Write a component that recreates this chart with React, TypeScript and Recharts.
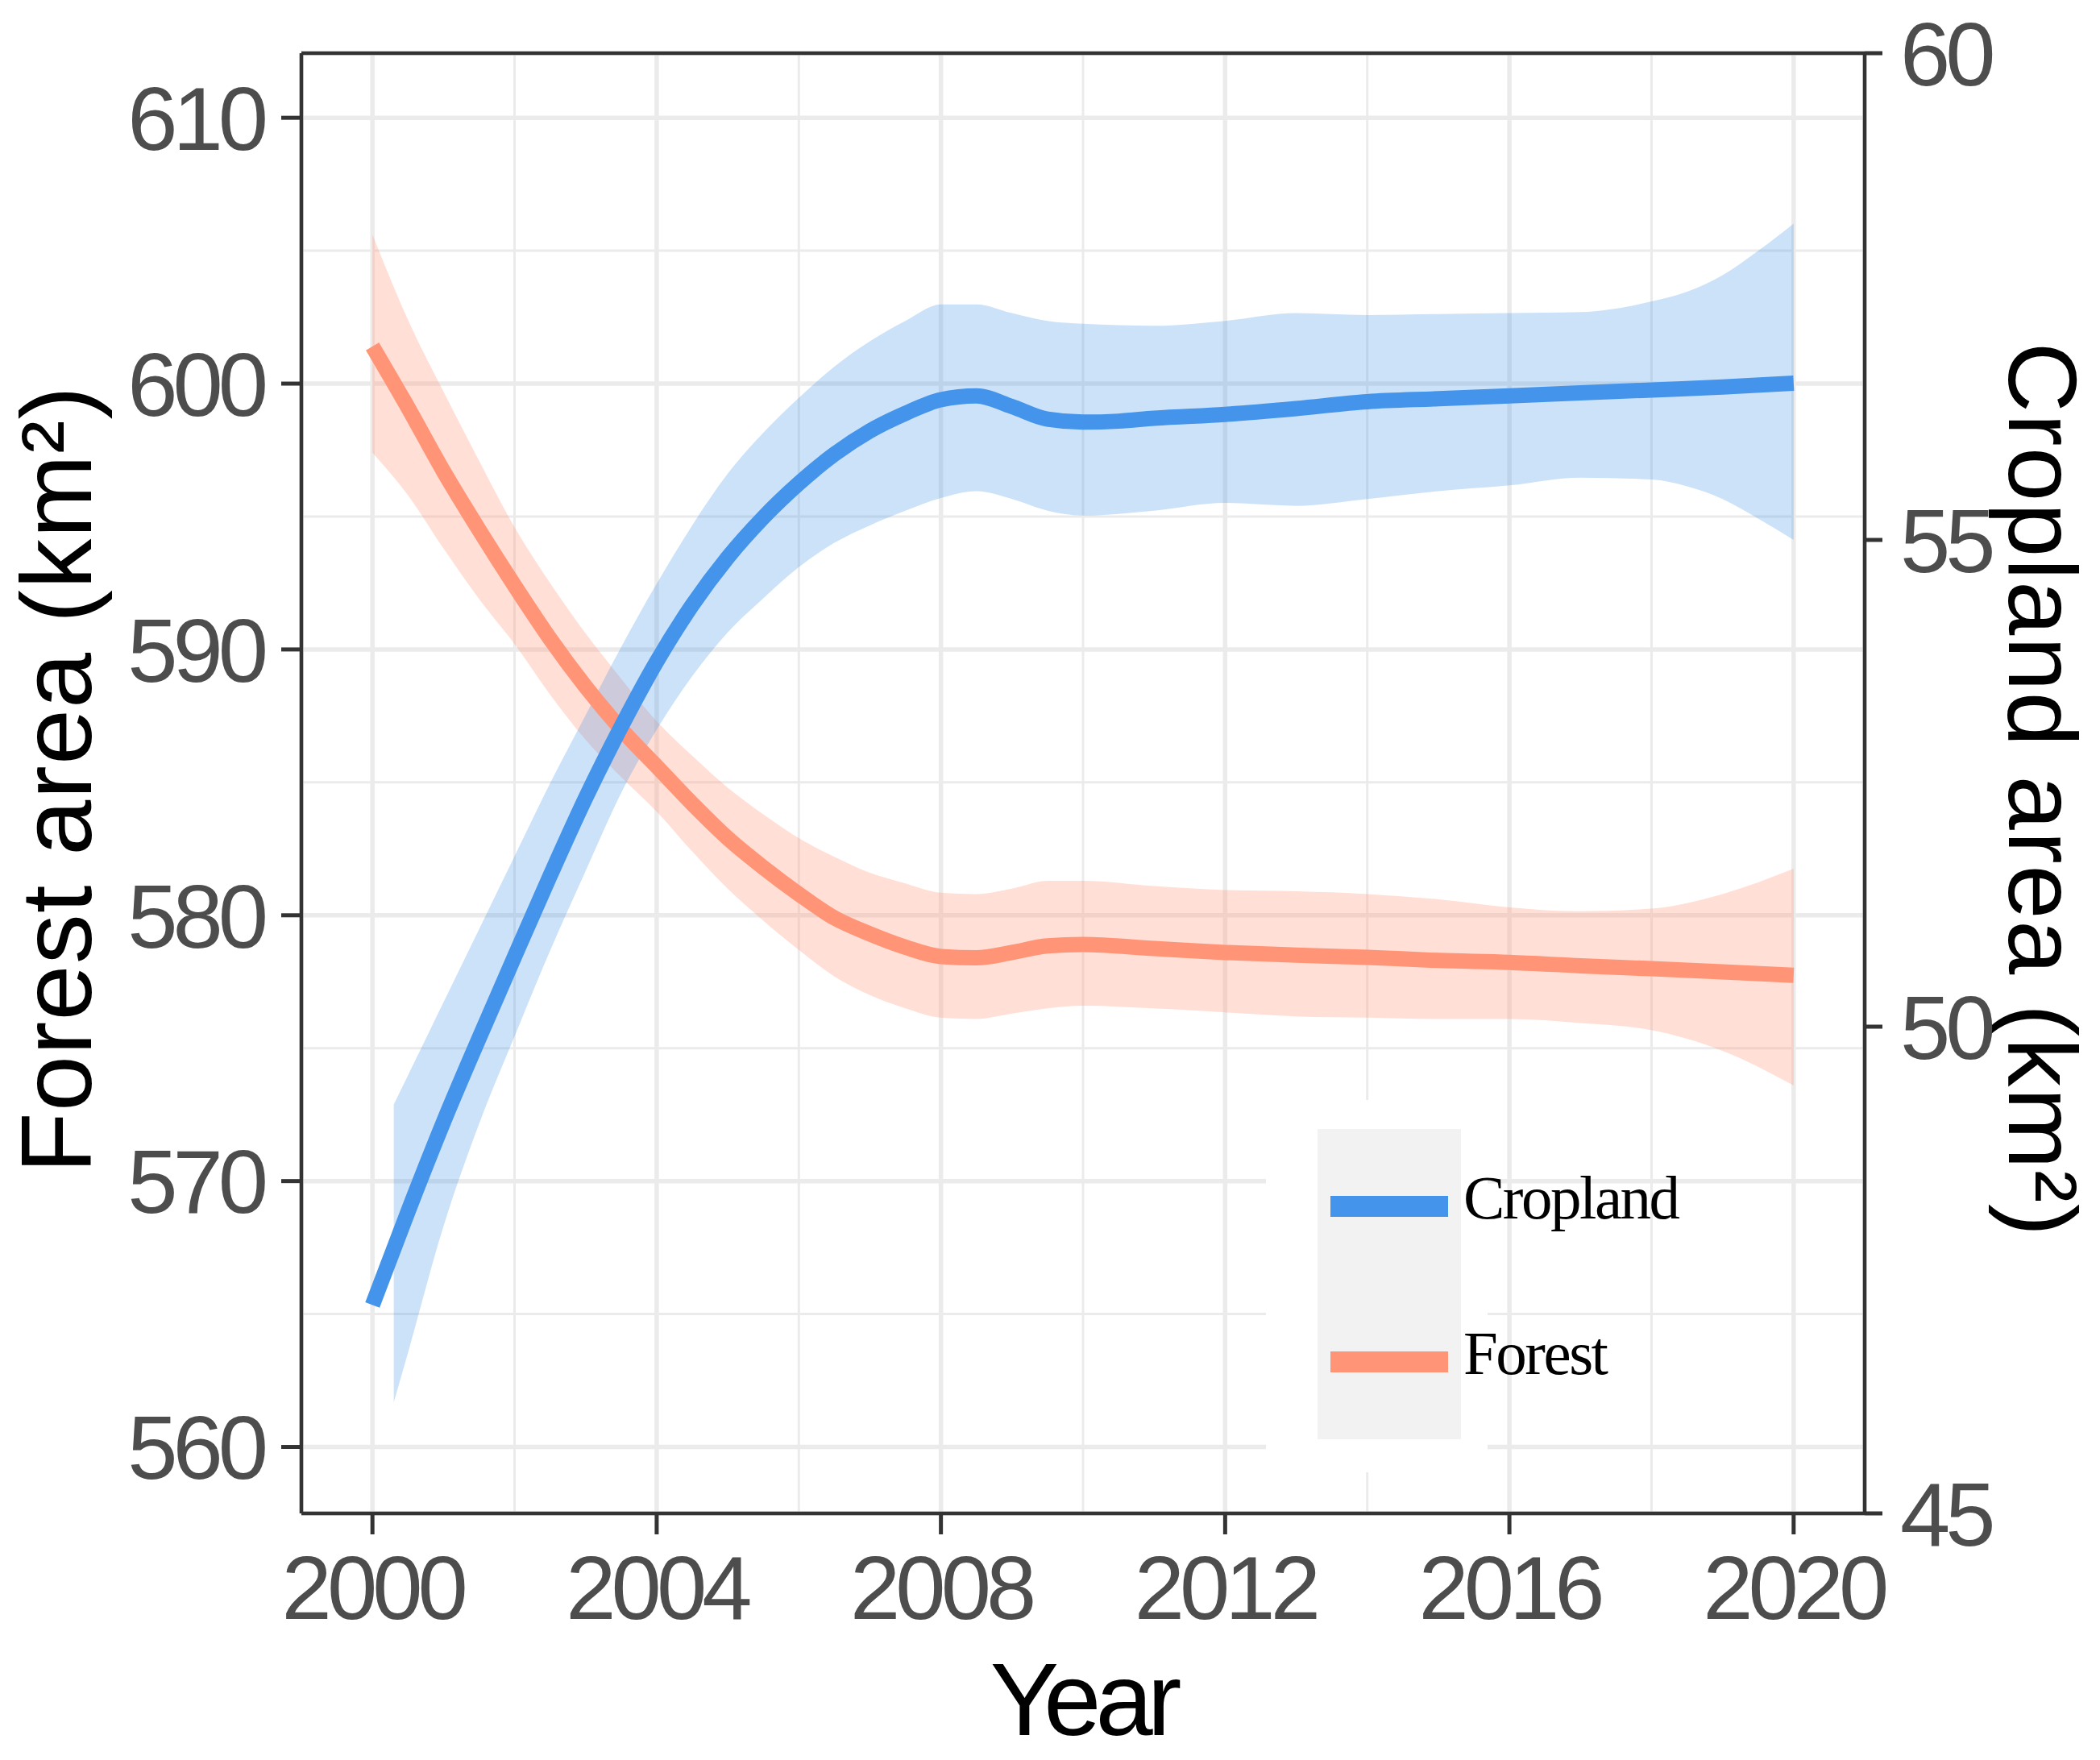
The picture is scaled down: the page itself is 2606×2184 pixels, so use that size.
import React from 'react';
import { ComposedChart, Line, Area, XAxis, YAxis, CartesianGrid, ReferenceLine, Customized } from 'recharts';

// ---------- data ----------
const seriesNames = ['Cropland', 'Forest'];
const axisTitles = { x: 'Year', left: 'Forest area (km²)', right: 'Cropland area (km²)' };

const xTicks = [2000, 2004, 2008, 2012, 2016, 2020];
const xMinorTicks = [2002, 2006, 2010, 2014, 2018];
const leftTicks = [560, 570, 580, 590, 600, 610];
const leftMinorTicks = [565, 575, 585, 595, 605];
const rightTicks = [45, 50, 55, 60];

const forestYears = [2000, 2000.5, 2001, 2001.5, 2002, 2002.5, 2003, 2003.5, 2004, 2004.5, 2005, 2005.5, 2006, 2006.5, 2007, 2007.5, 2008, 2008.5, 2009, 2009.5, 2010, 2011, 2012, 2013, 2014, 2015, 2016, 2017, 2018, 2019, 2020];
const forestMean = [601.4, 599.1, 596.7, 594.5, 592.4, 590.4, 588.6, 587.0, 585.6, 584.2, 582.9, 581.8, 580.8, 579.9, 579.3, 578.8, 578.45, 578.4, 578.6, 578.85, 578.9, 578.75, 578.6, 578.5, 578.42, 578.3, 578.23, 578.1, 577.99, 577.87, 577.74];
const forestLower = [597.4, 595.8, 593.8, 591.9, 590.2, 588.3, 586.6, 585.2, 583.9, 582.4, 581.0, 579.8, 578.7, 577.7, 577.0, 576.5, 576.15, 576.1, 576.3, 576.5, 576.6, 576.5, 576.35, 576.2, 576.15, 576.1, 576.1, 575.95, 575.68, 574.9, 573.6];
const forestUpper = [605.6, 602.4, 599.7, 597.1, 594.6, 592.5, 590.6, 588.9, 587.3, 586.0, 584.8, 583.8, 582.9, 582.2, 581.6, 581.2, 580.85, 580.8, 581.0, 581.3, 581.3, 581.1, 580.95, 580.9, 580.8, 580.6, 580.3, 580.15, 580.25, 580.8, 581.75];

const cropYears = [2000, 2000.5, 2001, 2001.5, 2002, 2002.5, 2003, 2003.5, 2004, 2004.5, 2005, 2005.5, 2006, 2006.5, 2007, 2007.5, 2008, 2008.5, 2009, 2009.5, 2010, 2010.5, 2011, 2012, 2013, 2014, 2015, 2016, 2017, 2018, 2019, 2020];
const cropMean = [47.14, 48.1, 49.02, 49.88, 50.72, 51.55, 52.35, 53.08, 53.75, 54.33, 54.82, 55.23, 55.58, 55.88, 56.12, 56.3, 56.44, 56.48, 56.37, 56.24, 56.21, 56.22, 56.25, 56.29, 56.35, 56.42, 56.45, 56.48, 56.51, 56.54, 56.57, 56.61];

const cropBandYears = [2000.3, 2000.5, 2001, 2001.5, 2002, 2002.5, 2003, 2003.5, 2004, 2004.5, 2005, 2005.5, 2006, 2006.5, 2007, 2007.5, 2008, 2008.5, 2009, 2009.5, 2010, 2011, 2012, 2013, 2014, 2015, 2016, 2017, 2018, 2018.5, 2019, 2019.5, 2020];
const cropUpper = [49.2, 49.5, 50.25, 51.0, 51.75, 52.5, 53.2, 53.9, 54.55, 55.15, 55.68, 56.1, 56.46, 56.78, 57.04, 57.25, 57.42, 57.42, 57.33, 57.25, 57.22, 57.2, 57.25, 57.33, 57.31, 57.32, 57.33, 57.34, 57.45, 57.55, 57.72, 57.97, 58.25];
const cropLower = [46.14, 46.65, 47.95, 49.0, 49.9, 50.78, 51.6, 52.4, 53.05, 53.6, 54.05, 54.4, 54.72, 54.97, 55.15, 55.3, 55.43, 55.5, 55.42, 55.3, 55.25, 55.3, 55.38, 55.35, 55.42, 55.5, 55.56, 55.64, 55.62, 55.55, 55.42, 55.22, 55.0];

// ---------- derived tables ----------
const forestLine = forestYears.map((year, i) => ({ year, value: forestMean[i] }));
const forestBand = forestYears.map((year, i) => ({ year, range: [forestLower[i], forestUpper[i]] }));
const cropLine = cropYears.map((year, i) => ({ year, value: cropMean[i] }));
const cropBand = cropBandYears.map((year, i) => ({ year, range: [cropLower[i], cropUpper[i]] }));

// ---------- styles ----------
const CROP = '#4394EA';
const FOREST = '#FF9476';
const SANS = '"Liberation Sans", Arial, Helvetica, sans-serif';
const SERIF = '"Liberation Serif", "Times New Roman", serif';
const TICK_STYLE = { fill: '#4D4D4D', fontSize: 112, fontFamily: SANS, letterSpacing: -6 };
const AXIS_LINE = { stroke: '#333333', strokeWidth: 4.5 };
const TICK_LINE = { stroke: '#333333', strokeWidth: 5 };
const X_DOMAIN: [number, number] = [1999, 2021];
const LEFT_DOMAIN: [number, number] = [557.5, 612.43];
const RIGHT_DOMAIN: [number, number] = [45, 60];

const Overlay = () => (
  <g>
    {/* axis titles */}
    <text x={113} y={967} transform="rotate(-90 113 967)" textAnchor="middle" fontFamily={SANS} fontSize={124} letterSpacing={1.2} fill="#000">
      {axisTitles.left}
    </text>
    <text x={2493} y={980} transform="rotate(90 2493 980)" textAnchor="middle" fontFamily={SANS} fontSize={121} letterSpacing={1.5} fill="#000">
      {axisTitles.right}
    </text>
    <text x={1344} y={2153} textAnchor="middle" fontFamily={SANS} fontSize={128} letterSpacing={-7} fill="#000">
      {axisTitles.x}
    </text>
    {/* legend */}
    <rect x={1571} y={1365} width={275} height={462} fill="#FFFFFF" />
    <rect x={1635} y={1401} width={178} height={385} fill="#F2F2F2" />
    <line x1={1651} x2={1797} y1={1497} y2={1497} stroke={CROP} strokeWidth={26} />
    <line x1={1651} x2={1797} y1={1690} y2={1690} stroke={FOREST} strokeWidth={26} />
    <text x={1816} y={1512} fontFamily={SERIF} fontSize={77} letterSpacing={-2.5} fill="#000">{seriesNames[0]}</text>
    <text x={1816} y={1705} fontFamily={SERIF} fontSize={77} letterSpacing={-2.5} fill="#000">{seriesNames[1]}</text>
  </g>
);

export default function App() {
  return (
    <div style={{ position: 'absolute', left: 0, top: 0, width: 2606, height: 2184, background: '#fff' }}>
      <ComposedChart width={2606} height={2184} margin={{ top: 66, right: 92, bottom: 106, left: 74 }}>
        <XAxis
          xAxisId="x"
          type="number"
          dataKey="year"
          domain={X_DOMAIN}
          allowDataOverflow
          ticks={xTicks}
          height={200}
          tickSize={26}
          tickMargin={25}
          tick={TICK_STYLE}
          tickLine={TICK_LINE}
          axisLine={AXIS_LINE}
        />
        <XAxis xAxisId="minor" orientation="top" type="number" dataKey="year" domain={X_DOMAIN} allowDataOverflow ticks={xMinorTicks} height={0} hide />
        <YAxis
          yAxisId="left"
          type="number"
          domain={LEFT_DOMAIN}
          allowDataOverflow
          ticks={leftTicks}
          width={300}
          tickSize={25}
          tickMargin={22}
          tick={TICK_STYLE}
          tickLine={TICK_LINE}
          axisLine={AXIS_LINE}
        />
        <YAxis yAxisId="leftMinor" type="number" domain={LEFT_DOMAIN} allowDataOverflow ticks={leftMinorTicks} width={0} hide />
        <YAxis
          yAxisId="right"
          orientation="right"
          type="number"
          domain={RIGHT_DOMAIN}
          allowDataOverflow
          ticks={rightTicks}
          width={200}
          tickSize={22}
          tickMargin={22}
          tick={TICK_STYLE}
          tickLine={TICK_LINE}
          axisLine={AXIS_LINE}
        />
        <CartesianGrid xAxisId="minor" yAxisId="leftMinor" stroke="#EBEBEB" strokeWidth={3} />
        <CartesianGrid xAxisId="x" yAxisId="left" stroke="#EBEBEB" strokeWidth={5.5} />

        <Area xAxisId="x" yAxisId="left" data={forestBand} dataKey="range" type="monotone" stroke="none" fill={FOREST} fillOpacity={0.3} isAnimationActive={false} activeDot={false} />
        <Line xAxisId="x" yAxisId="left" data={forestLine} dataKey="value" type="monotone" stroke={FOREST} strokeWidth={19} dot={false} activeDot={false} isAnimationActive={false} />
        <Area xAxisId="x" yAxisId="right" data={cropBand} dataKey="range" type="monotone" stroke="none" fill={CROP} fillOpacity={0.27} isAnimationActive={false} activeDot={false} />
        <Line xAxisId="x" yAxisId="right" data={cropLine} dataKey="value" type="monotone" stroke={CROP} strokeWidth={19} dot={false} activeDot={false} isAnimationActive={false} />
        <ReferenceLine xAxisId="x" yAxisId="right" y={RIGHT_DOMAIN[1]} stroke="#333333" strokeWidth={4.5} ifOverflow="visible" />
        <Customized component={Overlay} />
      </ComposedChart>
    </div>
  );
}
